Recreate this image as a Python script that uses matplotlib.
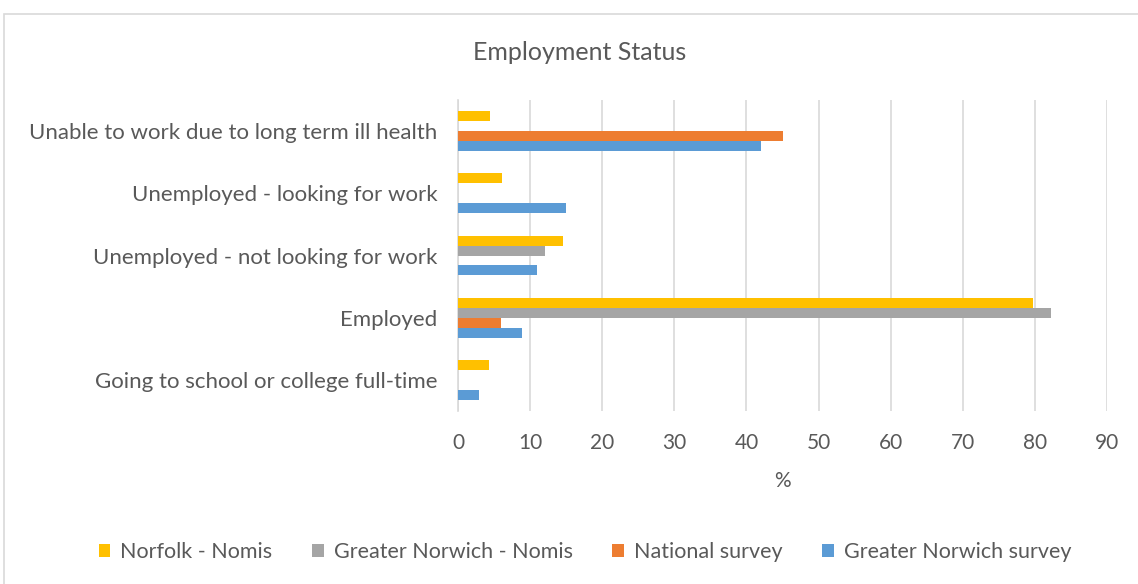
import numpy as np
import matplotlib
matplotlib.use("Agg")
import matplotlib.pyplot as plt
from matplotlib.patches import Rectangle

plt.rcParams['font.family'] = ['Lato', 'DejaVu Sans']

categories = [
    "Going to school or college full-time",
    "Employed",
    "Unemployed - not looking for work",
    "Unemployed - looking for work",
    "Unable to work due to long term ill health",
]
series_names = ["Norfolk - Nomis", "Greater Norwich - Nomis",
                "National survey", "Greater Norwich survey"]
norfolk_nomis = [4.3, 79.8, 14.6, 6.1, 4.5]
greater_norwich_nomis = [np.nan, 82.3, 12.0, np.nan, np.nan]
national_survey = [np.nan, 5.9, np.nan, np.nan, 45.0]
greater_norwich_survey = [2.9, 8.9, 10.9, 15.0, 42.0]
x_ticks = [0, 10, 20, 30, 40, 50, 60, 70, 80, 90]

colors = ["#FFC000", "#A5A5A5", "#ED7D31", "#5B9BD5"]
text_color = "#595959"

fig = plt.figure(figsize=(11.38, 5.84), dpi=100)
ax = fig.add_axes([458 / 1138, 1 - 411 / 584, 649 / 1138, 311 / 584])

# chart-area border
fig.add_artist(Rectangle((4 / 1138, -0.01), 1.2, 1 - 14 / 584 + 0.01,
                         transform=fig.transFigure, fill=False,
                         edgecolor="#D9D9D9", linewidth=1.2))

data = [norfolk_nomis, greater_norwich_nomis, national_survey, greater_norwich_survey]
y = np.arange(len(categories))
h = 0.16
offsets = [1.5 * h, 0.5 * h, -0.5 * h, -1.5 * h]
for vals, name, col, off in zip(data, series_names, colors, offsets):
    ax.barh(y + off, np.array(vals, dtype=float), height=h, color=col,
            label=name, zorder=3)

ax.set_xlim(0, 90)
ax.set_ylim(-0.5, len(categories) - 0.5)
ax.set_xticks(x_ticks)
ax.set_yticks(y)
ax.set_yticklabels(categories)
ax.xaxis.grid(True, color="#D9D9D9", linewidth=1.2, zorder=0)
ax.set_axisbelow(True)
for s in ["top", "right", "bottom"]:
    ax.spines[s].set_visible(False)
ax.spines["left"].set_color("#D9D9D9")
ax.spines["left"].set_linewidth(1.2)
ax.tick_params(axis="both", length=0, colors=text_color)
ax.tick_params(axis="x", labelsize=15, pad=16)
ax.tick_params(axis="y", labelsize=16, pad=15)

ax.set_xlabel("%", fontsize=15, color=text_color, labelpad=13)

fig.text(580 / 1138, 1 - 52 / 584, "Employment Status", ha="center", va="center",
         fontsize=18, color=text_color)

fig.legend(loc="center", bbox_to_anchor=(585 / 1138, 1 - 552 / 584), ncol=4,
           frameon=False, fontsize=15.5, labelcolor=text_color,
           handlelength=0.55, handleheight=0.55, handletextpad=0.45,
           columnspacing=1.85)

fig.savefig("out.png", dpi=100, facecolor="white")
